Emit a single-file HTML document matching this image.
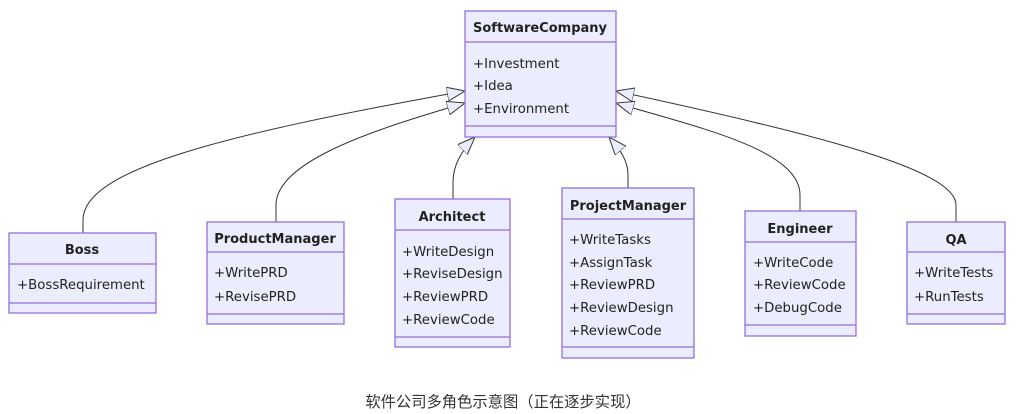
<!DOCTYPE html>
<html><head><meta charset="utf-8"><style>
html,body{margin:0;padding:0;background:#fff;}
svg{display:block;}
text{font-family:"DejaVu Sans","Liberation Sans",sans-serif;font-size:13.3px;fill:#222;}
.t{font-weight:bold;text-anchor:middle;font-size:13px;}
.b{fill:#ECECFF;stroke:#9370DB;stroke-width:1.3;}
.d{stroke:#9370DB;stroke-width:1.3;}
.e{fill:none;stroke:#333;stroke-width:1;}
.cap{font-family:"Liberation Sans","Noto Sans CJK SC",sans-serif;font-size:15.3px;text-anchor:middle;fill:#333;}
</style></head><body>
<svg width="1036" height="414" viewBox="0 0 1036 414" xmlns="http://www.w3.org/2000/svg">
<defs>
<marker id="a" markerUnits="userSpaceOnUse" markerWidth="22" markerHeight="18" refX="18" refY="7" orient="auto">
<path d="M0,0 L18,7 L0,14 z" fill="#ECECFF" stroke="#333" stroke-width="1"/>
</marker>
</defs>
<path class="e" marker-end="url(#a)" d="M83,233 V220 C83,170 220,135 465,91"/>
<path class="e" marker-end="url(#a)" d="M276,222 V205 C276,160 380,128 465,103"/>
<path class="e" marker-end="url(#a)" d="M453,199 V182 C453,165 462,150 475,137"/>
<path class="e" marker-end="url(#a)" d="M628,188 V175 C628,160 620,150 609,137"/>
<path class="e" marker-end="url(#a)" d="M800,211 V195 C800,150 700,128 616,103"/>
<path class="e" marker-end="url(#a)" d="M956,222 V205 C956,170 820,135 616,91"/>

<rect class="b" x="465" y="11" width="151" height="126"/>
<line class="d" x1="465" y1="42" x2="616" y2="42"/><line class="d" x1="465" y1="126" x2="616" y2="126"/>
<text class="t" x="540" y="32">SoftwareCompany</text>
<text x="473" y="68">+Investment</text><text x="473" y="90">+Idea</text><text x="473" y="113">+Environment</text>

<rect class="b" x="9" y="233" width="147" height="80"/>
<line class="d" x1="9" y1="264" x2="156" y2="264"/><line class="d" x1="9" y1="303" x2="156" y2="303"/>
<text class="t" x="82" y="254">Boss</text>
<text x="17" y="289">+BossRequirement</text>

<rect class="b" x="207" y="222" width="137" height="102"/>
<line class="d" x1="207" y1="252" x2="344" y2="252"/><line class="d" x1="207" y1="314" x2="344" y2="314"/>
<text class="t" x="275" y="243">ProductManager</text>
<text x="214" y="277">+WritePRD</text><text x="214" y="301">+RevisePRD</text>

<rect class="b" x="395" y="199" width="115" height="148"/>
<line class="d" x1="395" y1="230" x2="510" y2="230"/><line class="d" x1="395" y1="337" x2="510" y2="337"/>
<text class="t" x="452" y="221">Architect</text>
<text x="402" y="256">+WriteDesign</text><text x="402" y="278">+ReviseDesign</text><text x="402" y="301">+ReviewPRD</text><text x="402" y="324">+ReviewCode</text>

<rect class="b" x="562" y="188" width="132" height="170"/>
<line class="d" x1="562" y1="219" x2="694" y2="219"/><line class="d" x1="562" y1="347" x2="694" y2="347"/>
<text class="t" x="628" y="210">ProjectManager</text>
<text x="569" y="244">+WriteTasks</text><text x="569" y="267">+AssignTask</text><text x="569" y="289">+ReviewPRD</text><text x="569" y="312">+ReviewDesign</text><text x="569" y="335">+ReviewCode</text>

<rect class="b" x="745" y="211" width="111" height="125"/>
<line class="d" x1="745" y1="242" x2="856" y2="242"/><line class="d" x1="745" y1="325" x2="856" y2="325"/>
<text class="t" x="800" y="233">Engineer</text>
<text x="753" y="267">+WriteCode</text><text x="753" y="289">+ReviewCode</text><text x="753" y="312">+DebugCode</text>

<rect class="b" x="907" y="222" width="98" height="102"/>
<line class="d" x1="907" y1="252" x2="1005" y2="252"/><line class="d" x1="907" y1="314" x2="1005" y2="314"/>
<text class="t" x="956" y="244">QA</text>
<text x="914" y="277">+WriteTests</text><text x="914" y="301">+RunTests</text>

<text class="cap" x="503" y="407">软件公司多角色示意图（正在逐步实现）</text>
</svg>
</body></html>
